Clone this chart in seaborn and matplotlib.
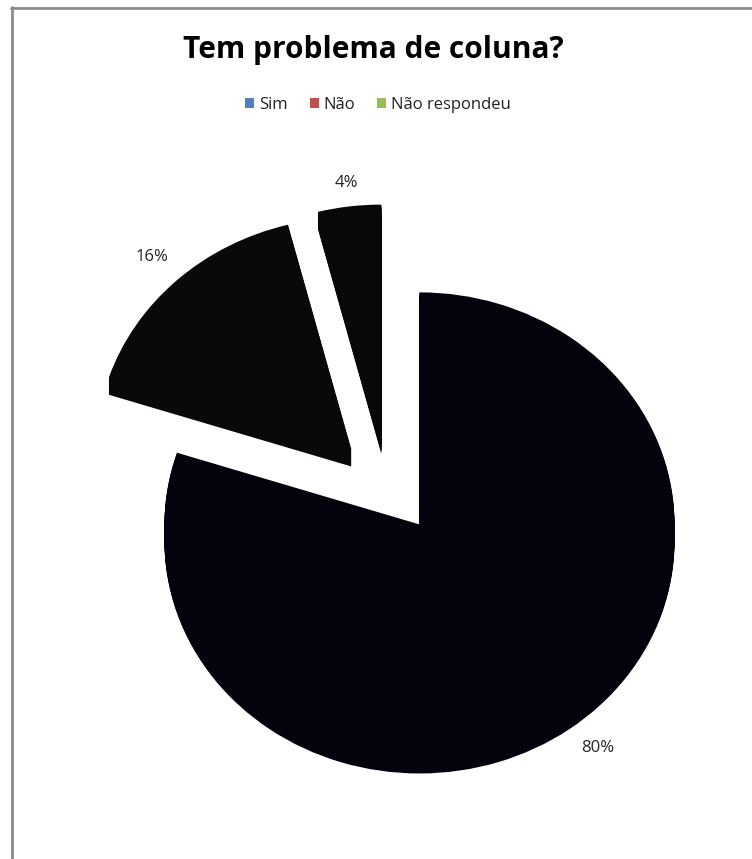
import matplotlib
matplotlib.use("Agg")
import matplotlib.pyplot as plt
import seaborn as sns
import numpy as np
from matplotlib.patches import Patch
from matplotlib.lines import Line2D

categories = ["Sim", "Não", "Não respondeu"]
values = [80, 16, 4]
pct_labels = ["80%", "16%", "4%"]
legend_colors = ["#4f81bd", "#c0504d", "#9bbb59"]
slice_colors = ["#03030e", "#0a0808", "#070906"]
title = "Tem problema de coluna?"

sns.set_theme(style="white")
plt.rcParams["font.family"] = ["Open Sans", "DejaVu Sans"]

W, H = 752, 859
SQ = 0.91          # vertical squash (3D tilt look)
fig = plt.figure(figsize=(W / 100, H / 100), dpi=100)
fig.patch.set_facecolor("white")
ax = fig.add_axes([0, 0, 1, 1])

cx, cy = 388, (H - 485) / SQ
R = 255
depth_px = 17
explode = [0.21 * R, 0.21 * R, 0.21 * R]

# extruded side of the 3D pie (stacked layers)
for k in np.arange(depth_px, 0, -1.0):
    ax.pie(values, colors=slice_colors, startangle=90,
           counterclock=False, explode=explode, radius=R,
           center=(cx, cy - k / SQ), frame=True,
           wedgeprops=dict(linewidth=0))
wedges, _ = ax.pie(values, colors=slice_colors, startangle=90,
                   counterclock=False, explode=explode, radius=R,
                   center=(cx, cy), frame=True,
                   wedgeprops=dict(linewidth=0))
ax.set_xlim(0, W)
ax.set_ylim(0, H / SQ)
ax.set_aspect("auto")
ax.axis("off")

label_factors = [1.19, 1.14, 1.10]
for w, lab, f in zip(wedges, pct_labels, label_factors):
    th = np.deg2rad((w.theta1 + w.theta2) / 2)
    x0, y0 = w.center
    ax.text(x0 + f * R * np.cos(th), y0 + f * R * np.sin(th), lab,
            ha="center", va="center", fontsize=12, color="#222222")

fig.text(0.5 * (183 + 563) / W, 1 - 50 / H, title, ha="center", va="center",
         fontsize=21.5, fontweight="bold", color="black")

handles = [Patch(facecolor=c, edgecolor="none") for c in legend_colors]
fig.legend(handles, categories, loc="center", bbox_to_anchor=(378 / W, 1 - 105 / H),
           ncol=3, frameon=False, fontsize=12, handlelength=0.55, handleheight=0.55,
           handletextpad=0.3, columnspacing=1.3, labelcolor="#222222")

# chart frame (left and top borders visible)
fig.add_artist(Line2D([11.5 / W, 11.5 / W], [0, 1 - 7 / H], transform=fig.transFigure,
                      color="#8c8c8c", linewidth=2))
fig.add_artist(Line2D([11 / W, 1], [1 - 7.5 / H, 1 - 7.5 / H], transform=fig.transFigure,
                      color="#8c8c8c", linewidth=2))

fig.savefig("out.png", dpi=100, facecolor="white")
